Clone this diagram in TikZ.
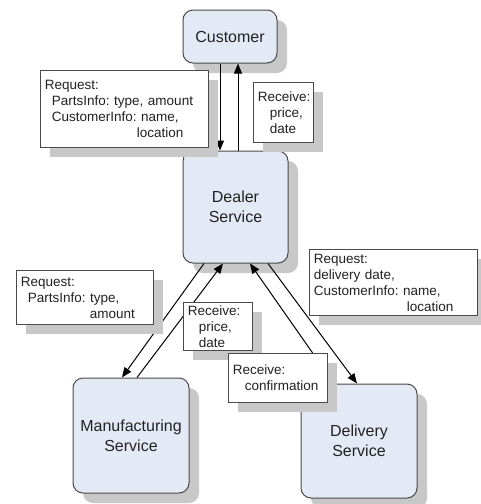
\documentclass[tikz,border=0pt]{standalone}
\usepackage{fontspec}
\setmainfont{Liberation Sans}
\frenchspacing
\usetikzlibrary{arrows.meta,shadows,calc}
\definecolor{svcfill}{HTML}{E4EAF5}
\definecolor{edge}{HTML}{4A4A4A}
\definecolor{shade}{HTML}{C8C8C8}
\definecolor{txt}{HTML}{222222}
\tikzset{
  svc/.style={draw=edge, line width=1pt, fill=svcfill, rounded corners=10pt,
    align=center, text=txt, font=\fontsize{16}{20}\selectfont,
    drop shadow={shadow xshift=10pt, shadow yshift=-10pt, fill=shade, opacity=1}},
  msg/.style={draw=edge, line width=0.9pt, fill=white, anchor=north west,
    align=left, text=txt, inner xsep=4.5pt, inner ysep=0pt,
    font=\fontsize{13.5}{16}\selectfont,
    drop shadow={shadow xshift=10pt, shadow yshift=-10pt, fill=shade, opacity=1}},
  arr/.style={line width=1pt, draw=black, -{Triangle[length=10pt,width=8pt]}}
}
\begin{document}
\begin{tikzpicture}[x=1pt,y=-1pt]
\useasboundingbox[fill=white] (0,0) rectangle (480,504);
% service nodes
\node[svc, minimum width=94pt, minimum height=53pt] (cust) at (230,36.5) {Customer};
\node[svc, minimum width=105pt, minimum height=112pt] (dealer) at (235.5,207) {Dealer\\Service};
\node[svc, minimum width=116pt, minimum height=115pt] (manu) at (131,435.5) {Manufacturing\\Service};
\node[svc, minimum width=116pt, minimum height=114pt] (deliv) at (359,441) {Delivery\\Service};
% connectors
\draw[arr] ([xshift=-10pt]cust.south) -- ([xshift=-10pt]cust.south |- dealer.north);
\draw[arr] ([xshift=8pt]cust.south |- dealer.north) -- ([xshift=8pt]cust.south);
\draw[arr] ([xshift=-31.5pt]dealer.south) -- ([xshift=-9pt]manu.north);
\draw[arr] ([xshift=6pt]manu.north) -- ([xshift=-12.5pt]dealer.south);
\draw[arr] ([xshift=32.5pt]dealer.south) -- ([xshift=-2pt]deliv.north);
\draw[arr] ([xshift=-25pt]deliv.north) -- ([xshift=14.5pt]dealer.south);
% message boxes
\node[msg, text width=159pt, minimum width=168pt, minimum height=77pt] (req1) at (40,70)
  {Request:\\\hspace*{7pt}PartsInfo: type, amount\\\hspace*{7pt}CustomerInfo: name,\\\hspace*{92pt}location};
\node[msg, text width=51pt, minimum width=60pt, minimum height=60pt] (rec1) at (253,82)
  {Receive:\\\hspace*{12pt}price,\\\hspace*{12pt}date};
\node[msg, text width=128pt, minimum width=137pt, minimum height=54pt] (req2) at (16,270)
  {Request:\\\hspace*{7pt}PartsInfo: type,\\\hspace*{69pt}amount};
\node[msg, text width=60pt, minimum width=69pt, minimum height=48pt] (rec2) at (183,302)
  {Receive:\\\hspace*{11pt}price,\\\hspace*{11pt}date};
\node[msg, text width=159pt, minimum width=168pt, minimum height=66pt] (req3) at (309,249)
  {Request:\\delivery date,\\CustomerInfo: name,\\\hspace*{93pt}location};
\node[msg, text width=90pt, minimum width=99pt, minimum height=49pt] (rec3) at (228,353)
  {Receive:\\\hspace*{12pt}\mbox{confirmation}};
\end{tikzpicture}
\end{document}
